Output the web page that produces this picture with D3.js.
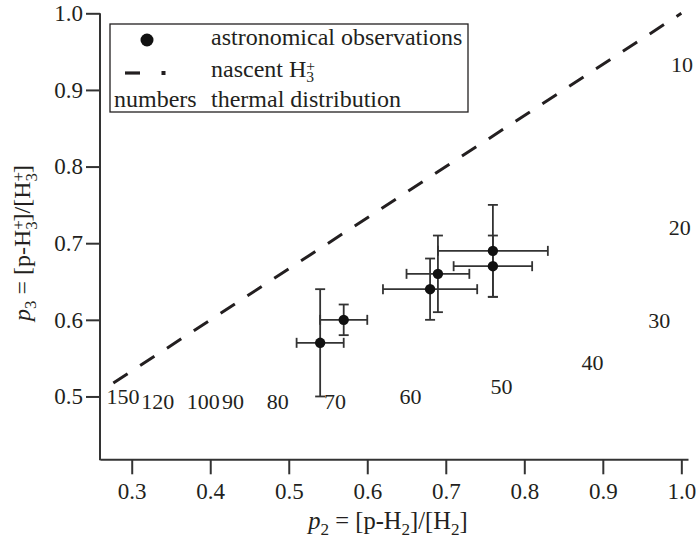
<!DOCTYPE html>
<html>
<head>
<meta charset="utf-8">
<script src="https://cdn.jsdelivr.net/npm/d3@7"></script>
<style>
  html, body { margin: 0; padding: 0; background: #fff; }
  svg { display: block; }
  text { font-family: "Liberation Serif", "Times New Roman", serif; fill: #231f20; }
</style>
</head>
<body>
<svg id="chart" width="696" height="539"></svg>
<script>
// ---- data ----
const obsP2   = [0.54, 0.57, 0.68, 0.69, 0.76, 0.76];
const obsP3   = [0.57, 0.60, 0.64, 0.66, 0.67, 0.69];
const obsP2Lo = [0.51, 0.54, 0.62, 0.65, 0.71, 0.69];
const obsP2Hi = [0.57, 0.60, 0.74, 0.73, 0.81, 0.83];
const obsP3Lo = [0.50, 0.58, 0.60, 0.61, 0.63, 0.63];
const obsP3Hi = [0.64, 0.62, 0.68, 0.71, 0.71, 0.75];

const nascentP2 = [0.2766, 1.0];
const nascentP3 = [0.5175, 1.0];

const thermalT  = ["10", "20", "30", "40", "50", "60", "70", "80", "90", "100", "120", "150"];
const thermalP2 = [1.001, 0.998, 0.972, 0.887, 0.771, 0.655, 0.559, 0.486, 0.429, 0.391, 0.333, 0.289];
const thermalP3 = [0.933, 0.721, 0.600, 0.544, 0.513, 0.500, 0.494, 0.494, 0.494, 0.494, 0.494, 0.500];

const xTicks = [0.3, 0.4, 0.5, 0.6, 0.7, 0.8, 0.9, 1.0];
const yTicks = [0.5, 0.6, 0.7, 0.8, 0.9, 1.0];

const legendLabels = ["astronomical observations", "nascent H", "thermal distribution"];

// ---- layout ----
const svg = d3.select("#chart");
const ink = "#231f20";
const mLeft = 100, mRight = 688, mTop = 13.3, mBottom = 459.3;

const x = d3.scaleLinear().domain([0.2596, 1.0085]).range([mLeft, mRight]);
const y = d3.scaleLinear().domain([0.418, 1.0]).range([mBottom, mTop]);

// nascent dashed line
const line = d3.line().x(d => x(d[0])).y(d => y(d[1]));
svg.append("path")
  .datum(nascentP2.map((v, i) => [v, nascentP3[i]]))
  .attr("d", line)
  .attr("fill", "none")
  .attr("stroke", ink)
  .attr("stroke-width", 3)
  .attr("stroke-dasharray", "17,15");

// error bars
const obs = obsP2.map((v, i) => ({p2: v, p3: obsP3[i], x0: obsP2Lo[i], x1: obsP2Hi[i], y0: obsP3Lo[i], y1: obsP3Hi[i]}));
const eb = svg.append("g").attr("stroke", "#333").attr("stroke-width", 1.8).attr("fill", "none");
const cap = 5;
obs.forEach(d => {
  eb.append("line").attr("x1", x(d.x0)).attr("x2", x(d.x1)).attr("y1", y(d.p3)).attr("y2", y(d.p3));
  eb.append("line").attr("x1", x(d.x0)).attr("x2", x(d.x0)).attr("y1", y(d.p3) - cap).attr("y2", y(d.p3) + cap);
  eb.append("line").attr("x1", x(d.x1)).attr("x2", x(d.x1)).attr("y1", y(d.p3) - cap).attr("y2", y(d.p3) + cap);
  eb.append("line").attr("x1", x(d.p2)).attr("x2", x(d.p2)).attr("y1", y(d.y0)).attr("y2", y(d.y1));
  eb.append("line").attr("x1", x(d.p2) - cap).attr("x2", x(d.p2) + cap).attr("y1", y(d.y0)).attr("y2", y(d.y0));
  eb.append("line").attr("x1", x(d.p2) - cap).attr("x2", x(d.p2) + cap).attr("y1", y(d.y1)).attr("y2", y(d.y1));
});
svg.append("g").selectAll("circle").data(obs).join("circle")
  .attr("cx", d => x(d.p2)).attr("cy", d => y(d.p3)).attr("r", 5.2).attr("fill", "#111");

// thermal labels
svg.append("g").selectAll("text").data(thermalT).join("text")
  .attr("x", (d, i) => x(thermalP2[i]))
  .attr("y", (d, i) => y(thermalP3[i]))
  .attr("dy", "0.35em")
  .attr("text-anchor", "middle")
  .attr("font-size", 22)
  .text(d => d);

// axes
const xAxis = d3.axisBottom(x).tickValues(xTicks).tickFormat(d3.format(".1f")).tickSizeInner(15).tickSizeOuter(0).tickPadding(8);
const yAxis = d3.axisLeft(y).tickValues(yTicks).tickFormat(d3.format(".1f")).tickSizeInner(14).tickSizeOuter(0).tickPadding(3);
const gx = svg.append("g").attr("transform", `translate(0,${mBottom})`).call(xAxis);
const gy = svg.append("g").attr("transform", `translate(${mLeft},0)`).call(yAxis);
[gx, gy].forEach(g => {
  g.select(".domain").attr("stroke", "#333").attr("stroke-width", 2);
  g.selectAll(".tick line").attr("stroke", "#333").attr("stroke-width", 2);
  g.selectAll(".tick text").attr("font-size", 23).attr("font-family", "Liberation Serif, serif").attr("fill", ink);
});
gy.select(".domain").attr("d", `M0,${mTop}V${mBottom + 1}`);

// axis titles
const F = 24.5;
const xt = svg.append("text").attr("x", 388).attr("y", 529).attr("text-anchor", "middle").attr("font-size", F);
xt.append("tspan").attr("font-style", "italic").text("p");
xt.append("tspan").attr("font-size", F * 0.7).attr("dy", 6).text("2");
xt.append("tspan").attr("dy", -6).text(" = [p-H");
xt.append("tspan").attr("font-size", F * 0.7).attr("dy", 6).text("2");
xt.append("tspan").attr("dy", -6).text("]/[H");
xt.append("tspan").attr("font-size", F * 0.7).attr("dy", 6).text("2");
xt.append("tspan").attr("dy", -6).text("]");

const F2 = 24;
const yt = svg.append("text").attr("transform", "translate(30,243) rotate(-90)").attr("text-anchor", "middle").attr("font-size", F2);
yt.append("tspan").attr("font-style", "italic").text("p");
yt.append("tspan").attr("font-size", F2 * 0.7).attr("dy", 6).text("3");
yt.append("tspan").attr("dy", -6).text(" = [p-H");
yt.append("tspan").attr("font-size", F2 * 0.7).attr("dy", -6).text("+");
yt.append("tspan").attr("font-size", F2 * 0.7).attr("dx", -F2 * 0.7 * 0.564).attr("dy", 13).text("3");
yt.append("tspan").attr("dy", -7).text("]/[H");
yt.append("tspan").attr("font-size", F2 * 0.7).attr("dy", -6).text("+");
yt.append("tspan").attr("font-size", F2 * 0.7).attr("dx", -F2 * 0.7 * 0.564).attr("dy", 13).text("3");
yt.append("tspan").attr("dy", -7).text("]");

// legend
const lg = svg.append("g");
lg.append("rect").attr("x", 110).attr("y", 24).attr("width", 358).attr("height", 88)
  .attr("fill", "#fff").attr("stroke", ink).attr("stroke-width", 1.3);
lg.append("circle").attr("cx", 147).attr("cy", 40).attr("r", 6.5).attr("fill", "#111");
lg.append("line").attr("x1", 125).attr("x2", 140).attr("y1", 73).attr("y2", 73).attr("stroke", ink).attr("stroke-width", 3.2);
lg.append("rect").attr("x", 161.5).attr("y", 71).attr("width", 4).attr("height", 4).attr("fill", ink);
const LF = 24;
const SF = LF * 0.65;
lg.append("text").attr("x", 211).attr("y", 45).attr("font-size", LF).text(legendLabels[0]);
const l2 = lg.append("text").attr("x", 211).attr("y", 77).attr("font-size", LF);
l2.append("tspan").text(legendLabels[1]);
l2.append("tspan").attr("font-size", SF).attr("dy", -6).text("+");
l2.append("tspan").attr("font-size", SF).attr("dx", -SF * 0.564).attr("dy", 10.5).text("3");
lg.append("text").attr("x", 114).attr("y", 106.5).attr("font-size", LF).text("numbers");
lg.append("text").attr("x", 211).attr("y", 106.5).attr("font-size", LF).text(legendLabels[2]);
</script>
</body>
</html>
